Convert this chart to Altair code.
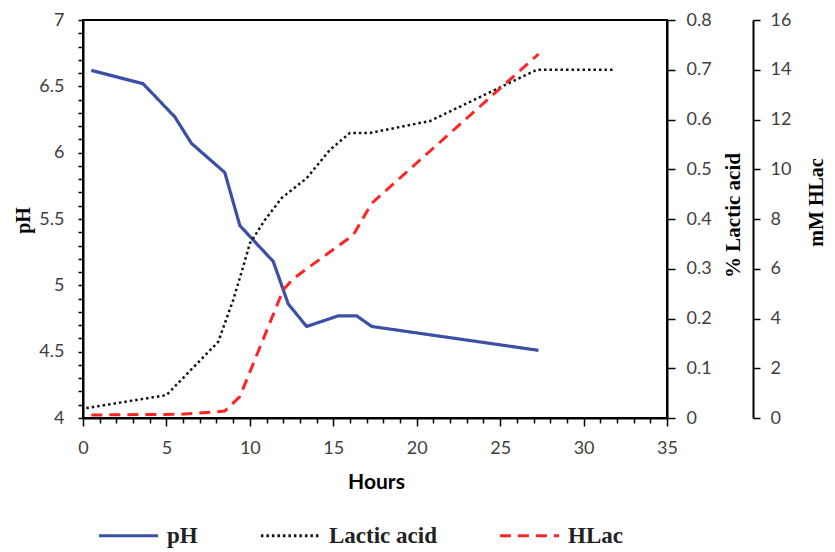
import altair as alt
import pandas as pd

# ---- data ----
series_names = ["pH", "Lactic acid", "HLac"]
series_colors = ["#3C4FA6", "#111111", "#FF2424"]

hours_ph = [0.5, 3.6, 5.5, 6.5, 8.5, 9.4, 11.4, 12.3, 13.4, 15.3, 16.4, 17.3, 27.3]
ph_values = [6.62, 6.52, 6.27, 6.07, 5.85, 5.45, 5.18, 4.86, 4.69, 4.77, 4.77, 4.69, 4.51]

hours_la = [0.2, 5.0, 8.1, 9.0, 9.6, 10.0, 10.9, 11.9, 13.4, 14.8, 16.0, 17.2, 20.8, 27.2, 31.9]
lactic_values = [0.02, 0.046, 0.153, 0.237, 0.304, 0.351, 0.398, 0.442, 0.482, 0.539, 0.573, 0.573, 0.597, 0.70, 0.70]

hours_hl = [0.5, 5.8, 7.7, 8.5, 9.4, 12.0, 12.6, 16.2, 17.3, 27.3]
hlac_values = [0.12, 0.15, 0.23, 0.28, 0.86, 5.15, 5.6, 7.36, 8.63, 14.63]

x_ticks = list(range(0, 36))
ph_ticks = [round(4 + i * 0.1, 1) for i in range(31)]
lactic_ticks = [0, 0.1, 0.2, 0.3, 0.4, 0.5, 0.6, 0.7, 0.8]
hlac_ticks = [0, 2, 4, 6, 8, 10, 12, 14, 16]

rows = []
for h, v in zip(hours_ph, ph_values):
    rows.append({"hours": h, "value": v, "series": "pH"})
for h, v in zip(hours_la, lactic_values):
    rows.append({"hours": h, "value": v, "series": "Lactic acid"})
for h, v in zip(hours_hl, hlac_values):
    rows.append({"hours": h, "value": v, "series": "HLac"})
df = pd.DataFrame(rows)

color_enc = alt.Color(
    "series:N",
    scale=alt.Scale(domain=series_names, range=series_colors),
    sort=series_names,
    legend=alt.Legend(
        title=None,
        orient="none",
        legendX=14,
        legendY=484,
        direction="horizontal",
        symbolType="stroke",
        symbolSize=3500,
        symbolStrokeWidth=3,
        labelFont="Liberation Serif",
        labelFontWeight="bold",
        labelFontSize=23,
        labelColor="#222222",
        labelOffset=7,
        columnPadding=56,
        padding=0,
    ),
)
dash_enc = alt.StrokeDash(
    "series:N",
    scale=alt.Scale(domain=series_names, range=[[1, 0], [2.5, 3], [11, 7]]),
    sort=series_names,
    legend=alt.Legend(title=None),
)

x_enc = alt.X(
    "hours:Q",
    scale=alt.Scale(domain=[0, 35], nice=False),
    axis=alt.Axis(
        title="Hours",
        values=x_ticks,
        labelExpr="datum.value % 5 === 0 ? datum.label : ''",
        tickSize={"condition": {"test": "datum.value % 5 === 0", "value": 8}, "value": 5},
        labelPadding=13,
        titleFont="Lato",
        titleFontWeight="bold",
        titleFontSize=21,
        titleX=293,
        titleY=64,
        titleAlign="center",
        titleBaseline="middle",
        labelFlush=False,
    ),
)

base = alt.Chart(df)

ph_layer = base.transform_filter(alt.datum.series == "pH").mark_line(strokeWidth=3.2).encode(
    x=x_enc,
    y=alt.Y(
        "value:Q",
        scale=alt.Scale(domain=[4, 7], nice=False, zero=False),
        axis=alt.Axis(
            title="pH",
            orient="left",
            values=ph_ticks,
            format=".1~f",
            labelExpr="abs(datum.value*2 - round(datum.value*2)) < 0.001 ? datum.label : ''",
            tickSize=5,
            labelPadding=14,
            titleX=-60,
            titleY=200,
            titleAngle=270,
            titleAlign="center",
            titleBaseline="middle",
            titleFontSize=20,
        ),
    ),
    color=color_enc,
    strokeDash=dash_enc,
)

la_layer = base.transform_filter(alt.datum.series == "Lactic acid").mark_line(strokeWidth=2.5).encode(
    x=x_enc,
    y=alt.Y(
        "value:Q",
        scale=alt.Scale(domain=[0, 0.8], nice=False),
        axis=alt.Axis(
            title="% Lactic  acid",
            orient="right",
            values=lactic_ticks,
            format=".1~f",
            tickSize=8,
            labelPadding=11,
            titleX=66,
            titleY=195,
            titleAngle=270,
            titleAlign="center",
            titleBaseline="middle",
            titleFontSize=21,
        ),
    ),
    color=color_enc,
    strokeDash=dash_enc,
)

hl_layer = base.transform_filter(alt.datum.series == "HLac").mark_line(strokeWidth=3).encode(
    x=x_enc,
    y=alt.Y(
        "value:Q",
        scale=alt.Scale(domain=[0, 16], nice=False),
        axis=alt.Axis(
            title="mM HLac",
            orient="right",
            offset=86,
            values=hlac_ticks,
            tickSize=7,
            labelPadding=10,
            titleX=63,
            titleY=182,
            titleAngle=270,
            titleAlign="center",
            titleBaseline="middle",
            titleFontSize=20,
        ),
    ),
    color=color_enc,
    strokeDash=dash_enc,
)

chart = (
    alt.layer(ph_layer, la_layer, hl_layer)
    .resolve_scale(y="independent")
    .properties(
        width=584,
        height=398,
        autosize=alt.AutoSizeParams(type="none"),
        padding={"left": 75, "top": 12, "right": 160, "bottom": 130},
    )
    .configure(background="white")
    .configure_view(stroke="black", strokeWidth=2)
    .configure_axis(
        grid=False,
        domainColor="black",
        domainWidth=2,
        tickColor="black",
        tickWidth=1.5,
        labelFont="Lato",
        labelFontSize=18,
        labelColor="#404040",
        titleFont="Liberation Serif",
        titleFontWeight="bold",
        titleColor="black",
    )
)

chart.save("out.html", embed_options={"renderer": "svg", "actions": False})
